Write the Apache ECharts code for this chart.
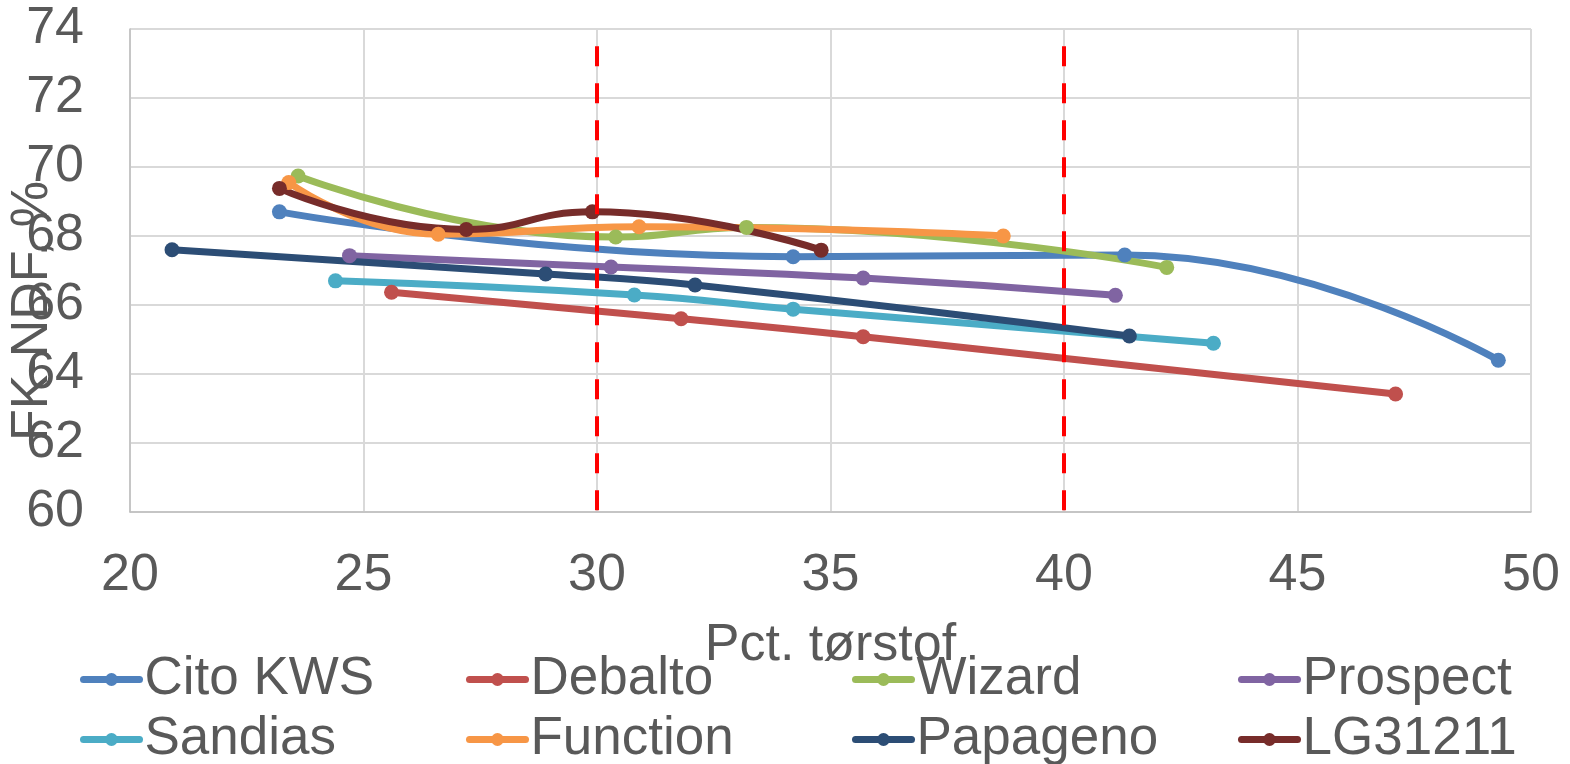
<!DOCTYPE html>
<html>
<head>
<meta charset="utf-8">
<script src="https://cdn.jsdelivr.net/npm/echarts@6/dist/echarts.min.js"></script>
<style>
  html, body { margin: 0; padding: 0; background: #ffffff; }
  #chart { width: 1570px; height: 764px; }
</style>
</head>
<body>
<div id="chart"></div>
<script>
// Dry matter (%) vs. FK-NDF (%) per variety
const citoKWS  = [[23.2, 68.7], [34.2, 67.4], [41.3, 67.45], [49.3, 64.4]];
const debalto  = [[25.6, 66.37], [31.8, 65.6], [35.7, 65.08], [47.1, 63.42]];
const wizard   = [[23.6, 69.74], [30.4, 67.97], [33.2, 68.25], [42.2, 67.09]];
const prospect = [[24.7, 67.43], [30.3, 67.1], [35.7, 66.78], [41.1, 66.28]];
const sandias  = [[24.4, 66.7], [30.8, 66.29], [34.2, 65.88], [43.2, 64.89]];
const functionV = [[23.4, 69.55], [26.6, 68.05], [30.9, 68.27], [38.7, 68.0]];
const papageno = [[20.9, 67.6], [28.9, 66.9], [32.1, 66.58], [41.4, 65.1]];
const lg31211  = [[23.2, 69.38], [27.2, 68.19], [29.9, 68.7], [34.8, 67.59]];

const seriesNames = ['Cito KWS', 'Debalto', 'Wizard', 'Prospect', 'Sandias', 'Function', 'Papageno', 'LG31211'];
const seriesData = [citoKWS, debalto, wizard, prospect, sandias, functionV, papageno, lg31211];
const seriesColors = ['#4F81BD', '#C0504D', '#9BBB59', '#8064A2', '#4BACC6', '#F79646', '#2C4D75', '#772C2A'];

// Vertical reference lines (dry matter window)
const refX = [30, 40];
const refSpan = [73.5, 60];

const xTitle = 'Pct. tørstof';
const yTitle = 'FK-NDF, %';

const FONT = 'Liberation Sans, Arial, sans-serif';
const TXT = '#595959';

const chart = echarts.init(document.getElementById('chart'), null, { renderer: 'canvas' });

const series = seriesNames.map((name, i) => ({
  name,
  type: 'line',
  data: seriesData[i],
  smooth: 0.5,
  symbol: 'circle',
  symbolSize: 15,
  color: seriesColors[i],
  lineStyle: { width: 7, color: seriesColors[i], cap: 'round', join: 'round' },
  itemStyle: { color: seriesColors[i], borderWidth: 0 },
  emphasis: { disabled: true }
}));

refX.forEach((x) => {
  series.push({
    type: 'line',
    data: [[x, refSpan[0]], [x, refSpan[1]]],
    symbol: 'none',
    silent: true,
    lineStyle: { color: '#FF0000', width: 4, type: [20, 17] },
    z: 10
  });
});

// Legend: 4 columns x 2 rows, fixed column spacing
const colLeft = [80, 466, 852, 1238];
const rowTop = [653, 713];
const legends = seriesNames.map((name, i) => ({
  data: [name],
  left: colLeft[i % 4],
  top: rowTop[Math.floor(i / 4)],
  padding: 0,
  itemWidth: 56,
  itemHeight: 16,
  itemGap: 0,
  selectedMode: false,
  lineStyle: { width: 7, cap: 'round' },
  textStyle: { fontFamily: FONT, fontSize: 53, color: TXT }
}));

chart.setOption({
  animation: false,
  backgroundColor: '#ffffff',
  grid: { left: 130, right: 39, top: 29, bottom: 252, containLabel: false },
  legend: legends,
  xAxis: {
    type: 'value',
    min: 20, max: 50, interval: 5,
    name: xTitle,
    nameLocation: 'middle',
    nameGap: 108,
    nameTextStyle: { fontFamily: FONT, fontSize: 52, color: TXT },
    axisLine: { show: true, lineStyle: { color: '#BFBFBF', width: 1.5 } },
    axisTick: { show: false },
    axisLabel: { fontFamily: FONT, fontSize: 52, color: TXT, margin: 38 },
    splitLine: { show: true, lineStyle: { color: '#D9D9D9', width: 2 } }
  },
  yAxis: {
    type: 'value',
    min: 60, max: 74, interval: 2,
    axisLine: { show: true, lineStyle: { color: '#BFBFBF', width: 1.5 } },
    axisTick: { show: false },
    axisLabel: { fontFamily: FONT, fontSize: 52, color: TXT, margin: 46 },
    splitLine: { show: true, lineStyle: { color: '#D9D9D9', width: 2 } }
  },
  graphic: [{
    type: 'text',
    x: 33,
    y: 311,
    rotation: Math.PI / 2,
    z: 100,
    style: {
      text: yTitle,
      fill: TXT,
      font: '52px ' + FONT,
      align: 'center',
      verticalAlign: 'middle',
      textAlign: 'center',
      textVerticalAlign: 'middle'
    }
  }],
  series
});
</script>
</body>
</html>
